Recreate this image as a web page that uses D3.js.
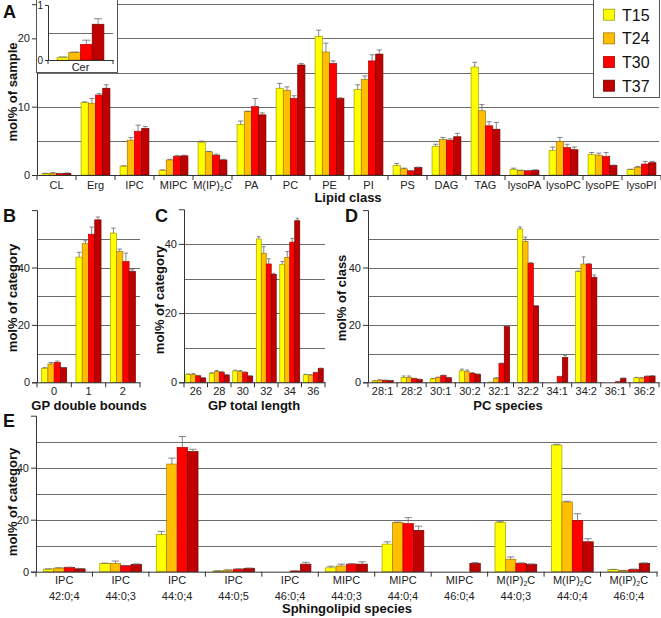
<!DOCTYPE html>
<html><head><meta charset="utf-8">
<script src="https://cdn.jsdelivr.net/npm/d3@7"></script>
<style>body{margin:0;background:#fff}svg{display:block}text{font-family:"Liberation Sans",Arial,sans-serif}</style>
</head><body><svg id="c" width="661" height="618"></svg>
<script>
// ---------- DATA ----------
const seriesNames = ["T15","T24","T30","T37"];

// Panel A: lipid class (mol% of sample)
const lipidClasses = ["CL","Erg","IPC","MIPC","M(IP)2C","PA","PC","PE","PI","PS","DAG","TAG","lysoPA","lysoPC","lysoPE","lysoPI"];
const aT15 = [0.2,10.6,1.3,0.7,4.8,7.4,12.7,20.3,12.5,1.4,4.2,15.8,0.8,3.6,3.0,0.8];
const aT24 = [0.25,10.5,5.1,2.2,3.4,9.3,12.4,18.0,14.0,0.9,5.2,9.4,0.65,4.9,2.9,1.1];
const aT30 = [0.2,11.7,6.4,2.7,2.9,10.0,11.2,16.3,16.7,0.6,5.1,7.2,0.6,4.0,2.7,1.6];
const aT37 = [0.25,12.7,6.8,2.8,2.2,8.8,16.1,11.2,17.7,1.1,5.6,6.7,0.7,3.7,1.4,1.8];
const aE15 = [0.05,0.1,0.05,0.05,0.15,0.5,0.7,0.9,0.7,0.3,0.3,0.7,0.2,0.5,0.3,0.05];
const aE24 = [0.1,0.7,0.4,0.1,0.05,0.05,0.5,1.3,0.5,0.1,0.3,0.9,0.05,0.6,0.3,0.15];
const aE30 = [0.05,0.2,0.9,0.15,0.15,1.2,0.4,0.4,0.9,0.05,0.2,0.6,0.05,0.5,0.6,0.4];
const aE37 = [0.05,0.5,0.3,0.1,0.1,0.3,0.2,0.1,0.6,0.05,0.5,1.0,0.05,0.4,0.05,0.2];

// Inset: Cer
const cerCats = ["Cer"];
const cerVals = [[0.05],[0.14],[0.285],[0.65]];
const cerErrs = [[0.005],[0.005],[0.075],[0.1]];

// Panel B: GP double bounds
const bCats = ["0","1","2"];
const bT15 = [4.9,43.6,52.0], bT24 = [6.4,48.3,45.6], bT30 = [6.9,51.6,42.1], bT37 = [5.1,56.6,38.6];
const bE15 = [0.2,1.7,1.7], bE24 = [0.5,1.0,0.8], bE30 = [0.5,2.5,2.9], bE37 = [0.1,1.0,0.6];

// Panel C: GP total length
const cCats = ["26","28","30","32","34","36"];
const cT15 = [2.3,2.6,3.3,41.4,34.1,2.2], cT24 = [2.3,3.1,3.1,37.3,36.1,2.1];
const cT30 = [1.9,2.9,2.8,34.2,40.5,2.8], cT37 = [1.25,2.1,1.8,31.2,46.7,4.0];
const cE15 = [0.1,0.2,0.2,0.7,0.8,0.1], cE24 = [0.2,0.3,0.3,1.9,1.7,0.1];
const cE30 = [0.1,0.2,0.2,1.5,1.1,0.1], cE37 = [0.1,0.1,0.1,0.3,0.7,0.1];

// Panel D: PC species
const dCats = ["28:1","28:2","30:1","30:2","32:1","32:2","34:1","34:2","36:1","36:2"];
const dT15 = [0.5,1.7,1.2,4.0,0.1,53.4,0,38.6,0,1.6];
const dT24 = [0.8,1.7,1.7,3.7,1.4,49.1,0,41.2,0,1.5];
const dT30 = [0.7,1.3,2.4,3.1,6.6,41.5,2.0,41.2,0.2,2.1];
const dT37 = [0.6,1.0,1.6,2.8,19.4,26.6,8.6,36.6,1.4,2.2];
const dE15 = [0.05,0.5,0.1,0.6,0,0.7,0,0.2,0,0.1];
const dE24 = [0.05,0.5,0.1,0.6,0.2,1.5,0,2.5,0,0.1];
const dE30 = [0.05,0.1,0.1,0.3,0.1,0.2,0.1,0.1,0,0.1];
const dE37 = [0.05,0.1,0.1,0.1,0.4,0.1,0.7,0.8,0.1,0.1];

// Panel E: sphingolipid species
const eClass = ["IPC","IPC","IPC","IPC","IPC","MIPC","MIPC","MIPC","M(IP)2C","M(IP)2C","M(IP)2C"];
const eSpecies = ["42:0;4","44:0;3","44:0;4","44:0;5","46:0;4","44:0;3","44:0;4","46:0;4","44:0;3","44:0;4","46:0;4"];
const eT15 = [1.0,3.2,14.3,0.25,0,1.5,10.6,0,18.9,48.7,0.8];
const eT24 = [1.4,3.2,41.4,0.6,0,2.2,18.9,0,4.8,26.8,0.4];
const eT30 = [1.65,2.3,47.8,1.0,0.25,2.9,18.5,0,3.2,19.7,0.9];
const eT37 = [1.1,2.8,46.2,1.3,2.9,2.9,15.9,3.2,2.8,11.5,3.2];
const eE15 = [0.1,0.1,1.2,0.1,0,0.6,0.9,0,0.5,0.3,0.1];
const eE24 = [0.1,0.9,2.3,0.1,0,0.7,0.2,0,0.9,0.3,0.1];
const eE30 = [0.1,0.1,4.2,0.1,0.1,0.2,2.3,0,0.2,2.6,0.1];
const eE37 = [0.1,0.2,0.9,0.1,0.7,0.9,1.6,0.3,0.2,1.2,0.2];

// ---------- DRAW ----------
const svg = d3.select("#c");
const fills = ["#ffff00","#ffbf00","#ff0000","#c00000"];
const strokes = ["#a0a000","#a87800","#a80000","#700000"];
const AX = "#333", GRID = "#6c6c6c", ERR = "#666";

function writeLabel(sel, s) {
  sel.text(null);
  if (s.indexOf("M(IP)2C") === 0) {
    sel.append("tspan").text("M(IP)");
    sel.append("tspan").text("2").attr("font-size","7px").attr("dy","2");
    sel.append("tspan").text("C").attr("dy","-2");
  } else sel.text(s);
}

function panel(p) {
  const n = p.vals[0].length;
  const x = d3.scaleBand().domain(d3.range(n)).range([p.x0, p.x1]);
  const y = d3.scaleLinear().domain([0, p.ymax]).range([p.y0, p.yTop]);
  const g = svg.append("g");
  g.append("g").selectAll("line").data(p.grid).join("line")
    .attr("x1", p.x0).attr("x2", p.gx1)
    .attr("y1", d => Math.round(y(d)) + 0.5).attr("y2", d => Math.round(y(d)) + 0.5)
    .attr("stroke", GRID).attr("stroke-width", 1);
  const bw = x.bandwidth();
  const sub = d3.scaleBand().domain(d3.range(4)).range([bw*(1-p.gr)/2, bw*(1+p.gr)/2]);
  p.vals.forEach((arr, si) => {
    g.append("g").selectAll("rect").data(arr).join("rect")
      .attr("x", (d,i) => x(i) + sub(si))
      .attr("width", sub.bandwidth())
      .attr("y", d => y(d)).attr("height", d => p.y0 - y(d))
      .attr("fill", fills[si]).attr("stroke", strokes[si]).attr("stroke-width", 0.7);
  });
  p.errs.forEach((arr, si) => {
    const eg = g.append("g").attr("stroke", ERR).attr("stroke-width", 0.8);
    arr.forEach((e, i) => {
      const v = p.vals[si][i];
      if (!(e > 0) || !(v > 0)) return;
      const cx = x(i) + sub(si) + sub.bandwidth()/2;
      const cw = sub.bandwidth()*0.35;
      eg.append("line").attr("x1", cx).attr("x2", cx).attr("y1", y(v)).attr("y2", y(v+e));
      eg.append("line").attr("x1", cx-cw).attr("x2", cx+cw).attr("y1", y(v+e)).attr("y2", y(v+e));
    });
  });
  const ya = d3.axisLeft(y).tickValues(p.yticks).tickSize(p.tickSize||5).tickSizeOuter(p.tickSize||5).tickPadding(2).tickFormat(d3.format("d"));
  const yg = g.append("g").attr("transform", `translate(${p.x0},0)`).call(ya);
  yg.selectAll("path,line").attr("stroke", AX);
  yg.selectAll("text").attr("fill", "#222").attr("font-size", p.yfs || 11).attr("font-family", null);
  const xa = d3.axisBottom(x).tickSize(0).tickPadding(p.xpad || 6).tickSizeOuter(0).tickFormat(i => p.noLabels ? "" : p.cats[i]);
  const xg = g.append("g").attr("transform", `translate(0,${p.y0})`).call(xa);
  xg.select(".domain").attr("stroke", AX);
  xg.selectAll("text").attr("fill", "#222").attr("font-size", p.xfs || 11).attr("font-family", null)
    .each(function(i){ if (!p.noLabels) writeLabel(d3.select(this), p.cats[i]); });
  const bounds = d3.range(n).map(i => x(i)).concat([p.x1]);
  g.append("g").selectAll("line").data(bounds).join("line")
    .attr("x1", d => d).attr("x2", d => d).attr("y1", p.y0).attr("y2", p.y0 + (p.btick||5))
    .attr("stroke", AX);
  return {x, y, g};
}

// Panel A
panel({vals:[aT15,aT24,aT30,aT37], errs:[aE15,aE24,aE30,aE37], cats: lipidClasses,
  x0:37, x1:661, gx1:659, y0:175, yTop:4.2, ymax:25, grid:[5,10,15,20,25], yticks:[0,10,20], gr:0.74});

// Inset (Cer)
svg.append("rect").attr("x",36.5).attr("y",-1).attr("width",81).attr("height",73.5)
  .attr("fill","#fff").attr("stroke","#555");
panel({vals:cerVals, errs:cerErrs, cats:cerCats, x0:48, x1:113, gx1:113, y0:60, yTop:5, ymax:1,
  grid:[0.5], yticks:[0,1], gr:0.72, tickSize:3, yfs:10, xpad:3, btick:4});

// Legend
const lg = svg.append("g");
lg.append("rect").attr("x",593.5).attr("y",-1).attr("width",66).attr("height",98.5).attr("fill","#fff").attr("stroke","#555");
const ly = d3.scalePoint().domain(seriesNames).range([14.7, 85.7]);
seriesNames.forEach((s, i) => {
  lg.append("rect").attr("x",603.5).attr("y",ly(s)-5.5).attr("width",11).attr("height",11)
    .attr("fill",fills[i]).attr("stroke",strokes[i]).attr("stroke-width",0.8);
  lg.append("text").attr("x",622).attr("y",ly(s)+6).attr("font-size",16).attr("fill","#111").text(s);
});

// Panel B
panel({vals:[bT15,bT24,bT30,bT37], errs:[bE15,bE24,bE30,bE37], cats:bCats, xpad:5,
  x0:37, x1:140, gx1:140, y0:382.3, yTop:210.1, ymax:60, grid:[10,20,30,40,50], yticks:[0,20,40], gr:0.73});
// Panel C
panel({vals:[cT15,cT24,cT30,cT37], errs:[cE15,cE24,cE30,cE37], cats:cCats, xpad:5,
  x0:184, x1:325, gx1:325, y0:382.3, yTop:209.3, ymax:50, grid:[10,20,30,40], yticks:[0,20,40], gr:0.85});
// Panel D
panel({vals:[dT15,dT24,dT30,dT37], errs:[dE15,dE24,dE30,dE37], cats:dCats, xpad:5,
  x0:368, x1:659, gx1:659, y0:382.3, yTop:210.1, ymax:60, grid:[10,20,30,40,50], yticks:[0,20,40], gr:0.73});
// Panel E (two-line labels drawn as separate texts)
const pe = panel({vals:[eT15,eT24,eT30,eT37], errs:[eE15,eE24,eE30,eE37], cats:eSpecies, noLabels:true,
  x0:36, x1:657, gx1:657, y0:571.7, yTop:415.7, ymax:60, grid:[10,20,30,40,50], yticks:[0,20,40], gr:0.74});
const el = svg.append("g").attr("font-size", 11).attr("fill", "#222").attr("text-anchor", "middle");
eClass.forEach((c, i) => {
  const cx = pe.x(i) + pe.x.bandwidth()/2;
  writeLabel(el.append("text").attr("x", cx).attr("y", 584), c);
  el.append("text").attr("x", cx).attr("y", 600).text(eSpecies[i]);
});

// Titles
const T = svg.append("g").attr("fill","#111");
function title(x, y, s, size, rot) {
  T.append("text").attr("font-weight","bold").attr("font-size",size).attr("text-anchor","middle")
    .attr("transform", rot ? `translate(${x},${y}) rotate(-90)` : `translate(${x},${y})`)
    .attr("dy", rot ? "0.35em" : 0).text(s);
}
function letter(x, y, s) { T.append("text").attr("x",x).attr("y",y).attr("font-weight","bold").attr("font-size",18).text(s); }
letter(3,18,"A"); letter(3,222,"B"); letter(155,222,"C"); letter(345,222,"D"); letter(3,427,"E");
title(12, 92, "mol% of sample", 13, true);
title(12, 298, "mol% of category", 13, true);
title(159, 300, "mol% of category", 13, true);
title(341, 298, "mol% of class", 13, true);
title(12, 502, "mol% of category", 13, true);
title(348, 202, "Lipid class", 13);
title(89, 409.5, "GP double bounds", 13);
title(254, 409.5, "GP total length", 13);
title(508, 409.5, "PC species", 13);
title(347, 613, "Sphingolipid species", 13);
</script></body></html>
